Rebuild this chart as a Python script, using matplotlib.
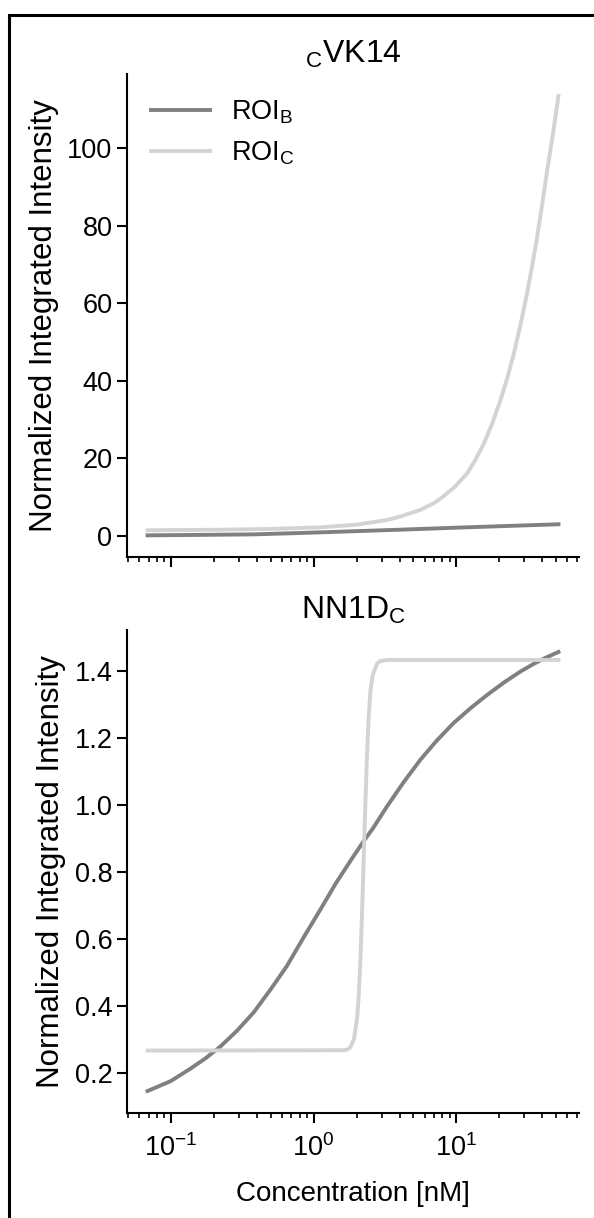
import matplotlib
matplotlib.use("Agg")
import matplotlib.pyplot as plt
from matplotlib.patches import Rectangle

plt.rcParams['font.family'] = ['Liberation Sans', 'DejaVu Sans']
plt.rcParams['mathtext.default'] = 'regular'

# ---- data ----
vk_b_conc = [0.0686, 0.15, 0.38, 0.8, 1.9, 4.0, 9.6, 20.0, 52.0]
vk_b_val = [0.15, 0.25, 0.4, 0.75, 1.2, 1.6, 2.1, 2.5, 3.0]

vk_c_conc = [0.0686, 0.22, 0.5, 1.11, 2.0, 3.27, 4.05, 5.58, 6.93, 7.73, 9.6,
             11.9, 13.5, 15.6, 17.8, 20.4, 22.8, 25.3, 28.2, 31.3, 34.0, 36.8,
             40.0, 43.3, 47.5, 52.0]
vk_c_val = [1.45, 1.6, 1.8, 2.2, 2.9, 4.1, 5.0, 6.7, 8.4, 9.6, 12.4,
            16.1, 19.4, 23.8, 28.9, 35.0, 40.8, 47.0, 54.5, 62.5, 69.6, 77.0,
            85.5, 94.2, 103.5, 113.5]

nn_b_conc = [0.0686, 0.1, 0.136, 0.175, 0.222, 0.29, 0.38, 0.5, 0.65, 0.85,
             1.12, 1.45, 1.91, 2.25, 2.6, 3.28, 4.3, 5.61, 7.3, 9.6, 12.6,
             16.5, 21.8, 28.3, 35.1, 42.0, 52.0]
nn_b_val = [0.145, 0.175, 0.211, 0.243, 0.278, 0.325, 0.380, 0.449, 0.519, 0.604,
            0.689, 0.770, 0.848, 0.893, 0.930, 0.997, 1.070, 1.136, 1.193, 1.246, 1.290,
            1.330, 1.368, 1.400, 1.423, 1.440, 1.458]

nn_c_conc = [0.0686, 1.62, 1.72, 1.81, 1.92, 2.02, 2.07, 2.13, 2.19, 2.25, 2.31,
             2.37, 2.43, 2.50, 2.60, 2.79, 2.95, 3.28, 52.0]
nn_c_val = [0.266, 0.267, 0.269, 0.276, 0.301, 0.365, 0.427, 0.540, 0.690, 0.855, 1.014,
            1.153, 1.258, 1.340, 1.390, 1.424, 1.431, 1.434, 1.434]

titles = ['${}_{C}$VK14', 'NN1D$_{C}$']
legend_labels = ['ROI$_{B}$', 'ROI$_{C}$']
ylabel_text = 'Normalized Integrated Intensity'
xlabel_text = 'Concentration [nM]'
color_b = '#808080'
color_c = '#d3d3d3'

W, H = 594, 1218
fig = plt.figure(figsize=(W / 100, H / 100), dpi=100)

ax1 = fig.add_axes([127 / W, 1 - 557.3 / H, 452 / W, 483.3 / H])
ax2 = fig.add_axes([127 / W, 1 - 1113 / H, 452 / W, 483 / H], sharex=ax1)

LW = 2.8
ax1.plot(vk_b_conc, vk_b_val, color=color_b, lw=LW, label=legend_labels[0])
ax1.plot(vk_c_conc, vk_c_val, color=color_c, lw=LW, label=legend_labels[1])
ax2.plot(nn_b_conc, nn_b_val, color=color_b, lw=LW)
ax2.plot(nn_c_conc, nn_c_val, color=color_c, lw=LW)

for ax, t in zip([ax1, ax2], titles):
    ax.set_xscale('log')
    ax.set_title(t, fontsize=23, pad=8)
    ax.set_ylabel(ylabel_text, fontsize=22.5, labelpad=6)
    ax.spines['top'].set_visible(False)
    ax.spines['right'].set_visible(False)
    for s in ['left', 'bottom']:
        ax.spines[s].set_linewidth(1.5)
    ax.tick_params(which='major', length=7, width=1.5, labelsize=19.5)
    ax.tick_params(which='minor', length=3.5, width=1.2)
    ax.tick_params(axis='x', which='both', pad=8)

ax1.set_yticks([0, 20, 40, 60, 80, 100])
ax2.set_yticks([0.2, 0.4, 0.6, 0.8, 1.0, 1.2, 1.4])
ax1.tick_params(labelbottom=False)
ax2.set_xlabel(xlabel_text, fontsize=20, labelpad=14)

ax1.legend(loc='upper left', frameon=False, fontsize=19.5, handlelength=2.15)

fig.add_artist(Rectangle((8.5 / W, -0.05), 1.1, 1 - 14.5 / H + 0.05,
                         transform=fig.transFigure, fill=False,
                         edgecolor='black', linewidth=2.2))

fig.savefig('out.png', dpi=100)
